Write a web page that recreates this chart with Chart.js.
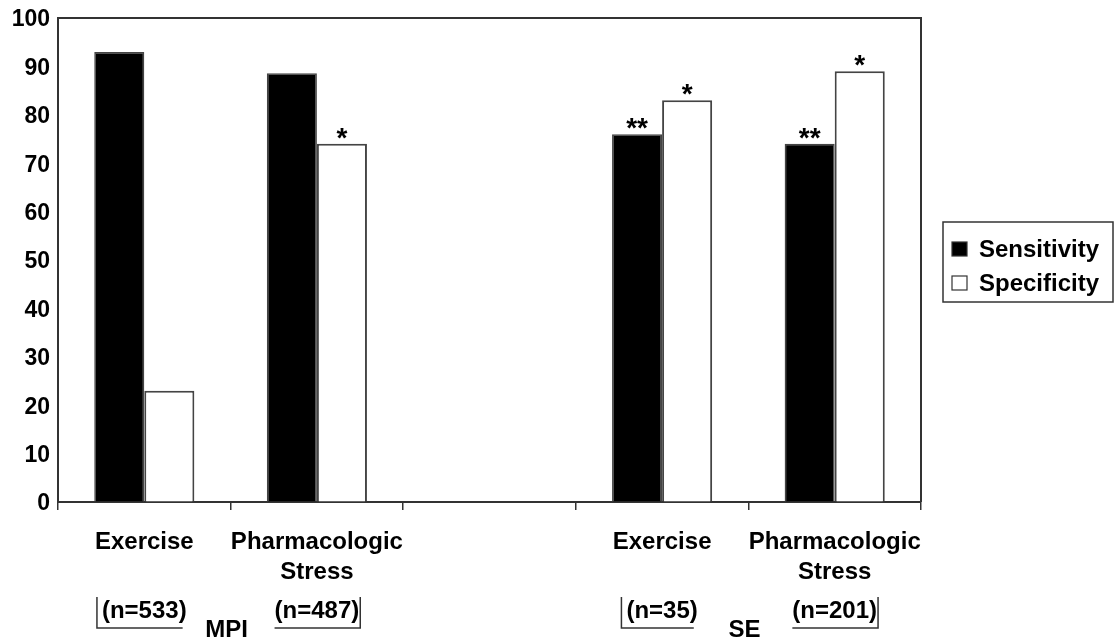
<!DOCTYPE html>
<html>
<head>
<meta charset="utf-8">
<script src="https://cdn.jsdelivr.net/npm/chart.js@4"></script>
<style>
  html, body { margin: 0; padding: 0; background: #fff; }
  #wrap { width: 1116px; height: 642px; }
</style>
</head>
<body>
<div id="wrap"><canvas id="c" width="1116" height="642"></canvas></div>
<script>
// Categories along the x axis (third slot is the gap between MPI and SE)
const categories = ['Exercise', ['Pharmacologic', 'Stress'], '', 'Exercise', ['Pharmacologic', 'Stress']];
// Percent values per category
const sensitivity = [93, 88.6, null, 76, 74];
const specificity = [23, 74, null, 83, 89];
// Significance markers over each bar
const sensMarks = ['', '', '', '**', '**'];
const specMarks = ['', '*', '', '*', '*'];
// Sample sizes under each category and the modality groups
const sampleSizes = ['(n=533)', '(n=487)', '', '(n=35)', '(n=201)'];
const groups = [{ label: 'MPI', from: 0, to: 1 }, { label: 'SE', from: 3, to: 4 }];
const yTicks = [0, 10, 20, 30, 40, 50, 60, 70, 80, 90, 100];

const FONT = '"Liberation Sans", Arial, sans-serif';
const INK = '#000';
const LINE = '#333';

const overlay = {
  id: 'overlay',
  afterDatasetsDraw(chart) {
    const ctx = chart.ctx;
    const area = chart.chartArea;
    const x = chart.scales.x;
    ctx.save();

    // plot frame (top and right edges)
    ctx.strokeStyle = LINE;
    ctx.lineWidth = 2;
    ctx.beginPath();
    ctx.moveTo(area.left, area.top);
    ctx.lineTo(area.right, area.top);
    ctx.lineTo(area.right, area.bottom);
    ctx.stroke();

    // significance asterisks
    ctx.fillStyle = INK;
    ctx.font = 'bold 28px ' + FONT;
    ctx.textAlign = 'center';
    ctx.textBaseline = 'alphabetic';
    [sensMarks, specMarks].forEach((marks, di) => {
      const meta = chart.getDatasetMeta(di);
      marks.forEach((m, i) => {
        if (!m) return;
        const bar = meta.data[i];
        ctx.fillText(m, bar.x, bar.y + 3);
      });
    });

    // sample sizes with bracket lines
    const nY = 611;
    ctx.font = 'bold 24px ' + FONT;
    ctx.textBaseline = 'middle';
    groups.forEach(g => {
      [g.from, g.to].forEach((idx, k) => {
        const label = sampleSizes[idx];
        const cx = x.getPixelForValue(idx);
        const w = ctx.measureText(label).width;
        const l = cx - w / 2, r = cx + w / 2;
        ctx.fillText(label, cx, nY);
        ctx.strokeStyle = LINE;
        ctx.lineWidth = 1.5;
        ctx.beginPath();
        if (k === 0) {
          ctx.moveTo(l - 5, 597);
          ctx.lineTo(l - 5, 628);
          ctx.lineTo(r - 4, 628);
        } else {
          ctx.moveTo(l, 628);
          ctx.lineTo(r + 1, 628);
          ctx.lineTo(r + 1, 597);
        }
        ctx.stroke();
      });
      // group name between its two categories
      const gx = (x.getPixelForValue(g.from) + x.getPixelForValue(g.to)) / 2 - 4;
      ctx.fillText(g.label, gx, 630);
    });

    // legend box
    const bx = 943, by = 222, bw = 170, bh = 80;
    ctx.strokeStyle = LINE;
    ctx.lineWidth = 1.5;
    ctx.strokeRect(bx, by, bw, bh);
    chart.data.datasets.forEach((ds, i) => {
      const cy = 249 + i * 34;
      ctx.fillStyle = ds.backgroundColor;
      ctx.fillRect(952, cy - 7, 15, 14);
      ctx.strokeStyle = LINE;
      ctx.lineWidth = 1.2;
      ctx.strokeRect(952, cy - 7, 15, 14);
      ctx.fillStyle = INK;
      ctx.textAlign = 'left';
      ctx.font = 'bold 24px ' + FONT;
      ctx.fillText(ds.label, 979, cy + 1);
      ctx.textAlign = 'center';
    });

    ctx.restore();
  }
};

new Chart(document.getElementById('c'), {
  type: 'bar',
  data: {
    labels: categories,
    datasets: [
      { label: 'Sensitivity', data: sensitivity, backgroundColor: '#000', borderColor: '#444', borderWidth: 1.5 },
      { label: 'Specificity', data: specificity, backgroundColor: '#fff', borderColor: '#444', borderWidth: 2 }
    ]
  },
  options: {
    responsive: false,
    animation: false,
    layout: { padding: { left: 0, right: 195, top: 18, bottom: 0 } },
    datasets: { bar: { categoryPercentage: 0.58, barPercentage: 1.0 } },
    plugins: { legend: { display: false }, tooltip: { enabled: false } },
    scales: {
      x: {
        afterFit(s) { s.height = 140; s.paddingLeft = 0; s.paddingRight = 0; },
        grid: { offset: true, drawOnChartArea: false, drawTicks: true, tickLength: 8, color: LINE, lineWidth: 1.5 },
        border: { color: LINE, width: 2 },
        ticks: { color: INK, padding: 17, maxRotation: 0, autoSkip: false,
                 font: { family: FONT, size: 24, weight: 'bold', lineHeight: 1.25 } }
      },
      y: {
        min: 0, max: 100,
        afterFit(s) { s.width = 58; s.paddingTop = 0; s.paddingBottom = 0; },
        afterBuildTicks(s) { s.ticks = yTicks.map(v => ({ value: v })); },
        grid: { display: true, drawOnChartArea: false, drawTicks: false },
        border: { color: LINE, width: 2 },
        ticks: { color: INK, padding: 8, labelOffset: 2, font: { family: FONT, size: 23, weight: 'bold' } }
      }
    }
  },
  plugins: [overlay]
});
</script>
</body>
</html>
